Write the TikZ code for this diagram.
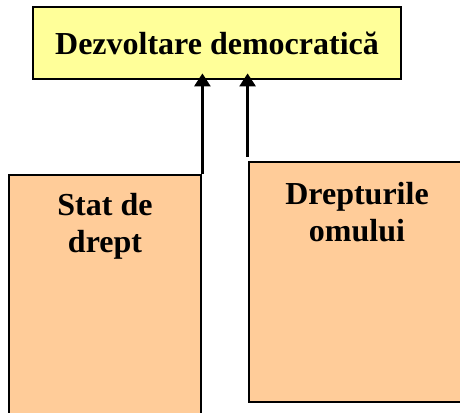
\documentclass[tikz,border=0pt]{standalone}
\usepackage{fontspec}
\setmainfont{Liberation Serif}
\usetikzlibrary{arrows.meta}
\definecolor{boxyellow}{HTML}{FFFF99}
\definecolor{boxorange}{HTML}{FFCC99}
\begin{document}
\begin{tikzpicture}[x=1pt,y=-1pt,
  topbox/.style={draw=black,line width=2.8pt,fill=boxyellow,rectangle,inner sep=0pt,
    minimum width=368pt,minimum height=72pt,font=\fontsize{32}{37}\selectfont\bfseries},
  sidebox/.style={draw=black,line width=2.8pt,fill=boxorange,rectangle,inner sep=0pt},
  boxlabel/.style={align=center,inner sep=0pt,anchor=north,font=\fontsize{32}{37}\selectfont\bfseries},
  arr/.style={line width=2.8pt,-{Triangle[length=13pt,width=16pt]}}]
\useasboundingbox (0,0) rectangle (460,412);
\clip (0,0) rectangle (460,412);
\node[topbox] (top) at (217,43) {Dezvoltare democratică};
\node[sidebox,minimum width=192pt,minimum height=265pt] (left) at (105,307.5) {};
\node[sidebox,minimum width=216pt,minimum height=240pt] (right) at (357,282) {};
\node[boxlabel] (lefttext) at (105,193) {Stat de\\drept};
\node[boxlabel] (righttext) at (357,182) {Drepturile\\omului};
\draw[arr] (left.north east) -- ([yshift=7pt]left.north east |- top.south);
\draw[arr] ([yshift=4pt]right.north west) -- ([yshift=7pt]right.north west |- top.south);
\end{tikzpicture}
\end{document}
